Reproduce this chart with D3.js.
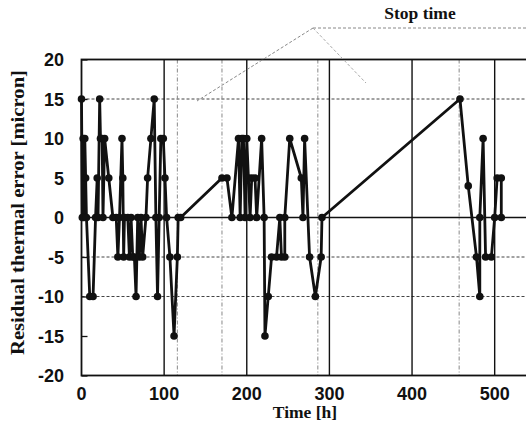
<!DOCTYPE html>
<meta charset="utf-8">
<title>Residual thermal error</title>
<style>
  body { margin: 0; background: #fff; }
  svg { display: block; }
</style>
<svg width="526" height="433"></svg>
<script src="https://d3js.org/d3.v7.min.js"></script>
<script>

// measured points: time [h] and residual error [micron]
var hours = [0, 1, 2, 3, 4, 5, 6, 10, 14, 17, 19, 20, 22, 23, 25, 26, 28, 33, 38, 42,
  44, 46, 49, 50, 51, 52, 56, 58, 60, 62, 64, 66, 68, 70, 72, 74, 78, 80, 84, 88,
  90, 92, 94, 96, 99, 101, 103, 107, 112, 116, 117, 120, 170, 176, 182, 190, 192, 194, 196, 198,
  200, 202, 204, 206, 210, 212, 218, 221, 222, 226, 230, 236, 240, 242, 246, 246, 252, 266, 268, 270,
  276, 283, 290, 291, 458, 468, 478, 482, 482, 486, 489, 496, 500, 503, 508, 508];
var errors = [15, 0, 10, 0, 10, 5, 0, -10, -10, 0, 5, 0, 15, 10, 10, 0, 10, 5, 0, 0,
  -5, 0, 10, 5, -5, 0, 0, -5, 0, -5, -5, -10, 0, -5, 0, -5, 0, 5, 10, 15,
  0, -10, 0, 10, 10, 5, 0, -5, -15, -5, 0, 0, 5, 5, 0, 10, 0, 10, 10, 0,
  10, 5, 0, 5, 5, 0, 10, 0, -15, -10, -5, -5, 0, -5, -5, 0, 10, 5, 0, 10,
  -5, -10, -5, 0, 15, 4, -5, -10, 0, 10, -5, -5, 0, 5, 5, 0];

var stopTimes = [116, 170, 286, 457];
var xTicks = [0, 100, 200, 300, 400, 500];
var yTicks = [-20, -15, -10, -5, 0, 5, 10, 15, 20];
var yGrid = [15, -5, -10];

var svg = d3.select("svg");

var x = d3.scaleLinear().domain([0, 550]).range([81.5, 536]);
var y = d3.scaleLinear().domain([-20, 20]).range([375.5, 59.5]);

var points = hours.map(function(h, i) { return [h, errors[i]]; });

// grid
svg.append("g")
  .selectAll("line")
  .data(yGrid)
  .enter().append("line")
    .attr("x1", x(0)).attr("x2", 526)
    .attr("y1", function(d) { return y(d); })
    .attr("y2", function(d) { return y(d); })
    .attr("stroke", "#444")
    .attr("stroke-width", 1)
    .attr("stroke-dasharray", "3,2");

svg.append("g")
  .selectAll("line")
  .data(stopTimes)
  .enter().append("line")
    .attr("x1", function(d) { return x(d); })
    .attr("x2", function(d) { return x(d); })
    .attr("y1", y(20)).attr("y2", y(-20))
    .attr("stroke", "#888")
    .attr("stroke-width", 1)
    .attr("stroke-dasharray", "4,2,1,2");

svg.append("g")
  .selectAll("line")
  .data(xTicks.slice(1))
  .enter().append("line")
    .attr("x1", function(d) { return x(d); })
    .attr("x2", function(d) { return x(d); })
    .attr("y1", y(20)).attr("y2", y(-20))
    .attr("stroke", "#111")
    .attr("stroke-width", 1.4);

// zero line
svg.append("line")
  .attr("x1", x(0)).attr("x2", 526)
  .attr("y1", y(0)).attr("y2", y(0))
  .attr("stroke", "#111")
  .attr("stroke-width", 1.5);

// frame
svg.append("rect")
  .attr("x", x(0)).attr("y", y(20))
  .attr("width", x(550) - x(0)).attr("height", y(-20) - y(20))
  .attr("fill", "none")
  .attr("stroke", "#111")
  .attr("stroke-width", 1.8);

// y axis, ticks inside
var yAxis = svg.append("g")
  .attr("transform", "translate(" + x(0) + ",0)")
  .call(d3.axisRight(y).tickValues(yTicks).tickSize(6).tickFormat(""));
yAxis.select(".domain").remove();
yAxis.selectAll("line").attr("stroke", "#111").attr("stroke-width", 1.3);

svg.append("g")
  .selectAll("text")
  .data(yTicks)
  .enter().append("text")
    .attr("x", 64)
    .attr("y", function(d) { return y(d) + 6.5; })
    .attr("text-anchor", "end")
    .style("font", "bold 18px 'Liberation Sans', Arial, sans-serif")
    .attr("fill", "#111")
    .text(function(d) { return d; });

svg.append("g")
  .selectAll("text")
  .data(xTicks)
  .enter().append("text")
    .attr("x", function(d) { return x(d); })
    .attr("y", 400)
    .attr("text-anchor", "middle")
    .style("font", "bold 18px 'Liberation Sans', Arial, sans-serif")
    .attr("fill", "#111")
    .text(function(d) { return d; });

// axis titles
svg.append("text")
  .attr("transform", "translate(24,212.5)rotate(-90)")
  .attr("text-anchor", "middle")
  .attr("textLength", 285)
  .attr("lengthAdjust", "spacingAndGlyphs")
  .style("font", "bold 18.5px 'Liberation Serif', 'Times New Roman', serif")
  .attr("fill", "#111")
  .text("Residual thermal error [micron]");

svg.append("text")
  .attr("x", 305)
  .attr("y", 418)
  .attr("text-anchor", "middle")
  .style("font", "bold 17.5px 'Liberation Serif', 'Times New Roman', serif")
  .attr("fill", "#111")
  .text("Time [h]");

// stop time annotation
svg.append("text")
  .attr("x", 420)
  .attr("y", 19)
  .attr("text-anchor", "middle")
  .style("font", "bold 17.5px 'Liberation Serif', 'Times New Roman', serif")
  .attr("fill", "#111")
  .text("Stop time");

var note = svg.append("g")
  .attr("stroke", "#888")
  .attr("stroke-width", 1)
  .attr("fill", "none")
  .attr("stroke-dasharray", "3,2");
note.append("line").attr("x1", 313).attr("y1", 28).attr("x2", 526).attr("y2", 28);
note.append("line").attr("x1", 313).attr("y1", 28).attr("x2", 197).attr("y2", 101);
note.append("line").attr("x1", 313).attr("y1", 28).attr("x2", 366).attr("y2", 83).attr("stroke", "#aaa");

// data line and markers
var line = d3.line()
  .x(function(d) { return x(d[0]); })
  .y(function(d) { return y(d[1]); });

svg.append("path")
  .attr("d", line(points))
  .attr("fill", "none")
  .attr("stroke", "#111")
  .attr("stroke-width", 2.8)
  .attr("stroke-linejoin", "round");

svg.append("g")
  .selectAll("circle")
  .data(points)
  .enter().append("circle")
    .attr("cx", function(d) { return x(d[0]); })
    .attr("cy", function(d) { return y(d[1]); })
    .attr("r", 3.8)
    .attr("fill", "#111");

</script>
